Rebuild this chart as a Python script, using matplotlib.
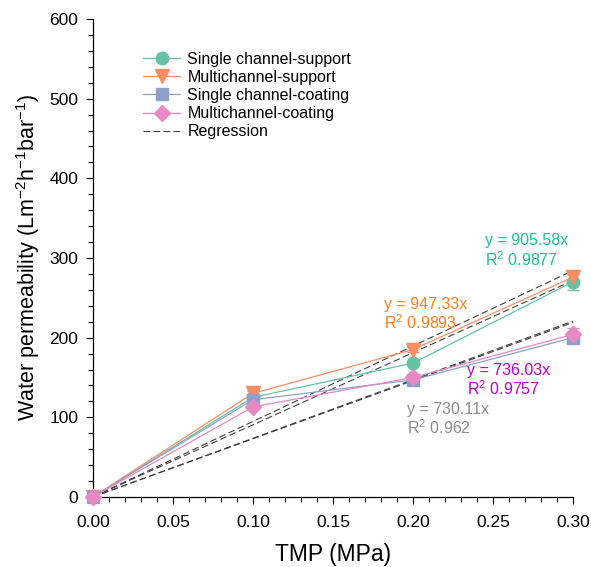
import matplotlib.pyplot as plt
from matplotlib.lines import Line2D

# Data
tmp = [0.0, 0.1, 0.2, 0.3]

single_support = [0, 125, 168, 270]
multi_support = [0, 130, 185, 276]
single_coating = [0, 122, 147, 200]
multi_coating = [0, 113, 150, 204]

single_support_err = [0, 8, 2, 10]
multi_support_err = [0, 4, 3, 6]
single_coating_err = [0, 5, 2, 3]
multi_coating_err = [0, 3, 2, 8]

# regression slopes (y = k*x) and R^2
slopes = [905.58, 947.33, 730.11, 736.03]
r2 = ["0.9877", "0.9893", "0.962", "0.9757"]

plt.rcParams['font.family'] = ['Liberation Sans', 'DejaVu Sans']
plt.rcParams['mathtext.fontset'] = 'custom'
plt.rcParams['mathtext.rm'] = 'Liberation Sans'
plt.rcParams['mathtext.it'] = 'Liberation Sans:italic'

fig = plt.figure(figsize=(5.91, 5.67), dpi=100)
ax = fig.add_axes([0.157, 0.1235, 0.8125, 0.843])

series = [
    (single_support, single_support_err, '#66c2a5', 'o', 9, "Single channel-support"),
    (multi_support, multi_support_err, '#fc8d62', 'v', 10, "Multichannel-support"),
    (single_coating, single_coating_err, '#8da0cb', 's', 8.5, "Single channel-coating"),
    (multi_coating, multi_coating_err, '#e78ac3', 'D', 8.5, "Multichannel-coating"),
]

handles = []
for y, err, col, mk, ms, lab in series:
    ax.errorbar(tmp, y, yerr=err, color=col, marker=mk, markersize=ms, lw=0.9,
                capsize=4, elinewidth=0.8, clip_on=False, zorder=3)
    handles.append(Line2D([], [], color=col, marker=mk, markersize=ms, lw=0.9, label=lab))

# regression lines through origin
for k in slopes:
    ax.plot([0.0, 0.3], [0.0, k * 0.3], ls=(0, (6, 3)), color='#404040', lw=0.8, zorder=2)
handles.append(Line2D([], [], ls=(0, (6, 3)), color='#404040', lw=0.8, label="Regression"))

# equations
txt_kw = dict(fontsize=11.5, va='top', ha='left', linespacing=1.1)
ax.text(0.245, 331, "y = %.2fx\nR$^2$ %s" % (slopes[0], r2[0]), color='#1fbf99', **txt_kw)
ax.text(0.182, 251, "y = %.2fx\nR$^2$ %s" % (slopes[1], r2[1]), color='#ff7f1e', **txt_kw)
ax.text(0.196, 119, "y = %.2fx\nR$^2$ %s" % (slopes[2], r2[2]), color='#8c8c8c', **txt_kw)
ax.text(0.234, 168, "y = %.2fx\nR$^2$ %s" % (slopes[3], r2[3]), color='#c000c0', **txt_kw)

ax.set_xlim(0, 0.3)
ax.set_ylim(0, 600)
ax.set_xticks([0, 0.05, 0.1, 0.15, 0.2, 0.25, 0.3])
ax.set_xticklabels(["0.00", "0.05", "0.10", "0.15", "0.20", "0.25", "0.30"])
ax.set_xticks([i * 0.01 for i in range(31)], minor=True)
ax.set_yticks(range(0, 601, 100))
ax.set_yticks(range(0, 601, 20), minor=True)
ax.tick_params(axis='both', which='major', labelsize=12.5, length=5, width=0.8, direction='out')
ax.tick_params(axis='both', which='minor', length=3.5, width=0.8, direction='out')
ax.tick_params(axis='x', which='major', pad=8)
ax.tick_params(axis='y', which='major', pad=5.5)
for s in ['top', 'right']:
    ax.spines[s].set_visible(False)
for s in ['left', 'bottom']:
    ax.spines[s].set_linewidth(0.9)

ax.set_xlabel("TMP (MPa)", fontsize=16.5, labelpad=9)
ax.set_ylabel("Water permeability (Lm$^{-2}$h$^{-1}$bar$^{-1}$)", fontsize=15.5, labelpad=5)

ax.legend(handles=handles, loc='upper left', bbox_to_anchor=(0.092, 0.945), frameon=False,
          fontsize=11.5, handlelength=2.3, labelspacing=0.2, handletextpad=0.45,
          borderaxespad=0)

fig.savefig("out.png", dpi=100)
